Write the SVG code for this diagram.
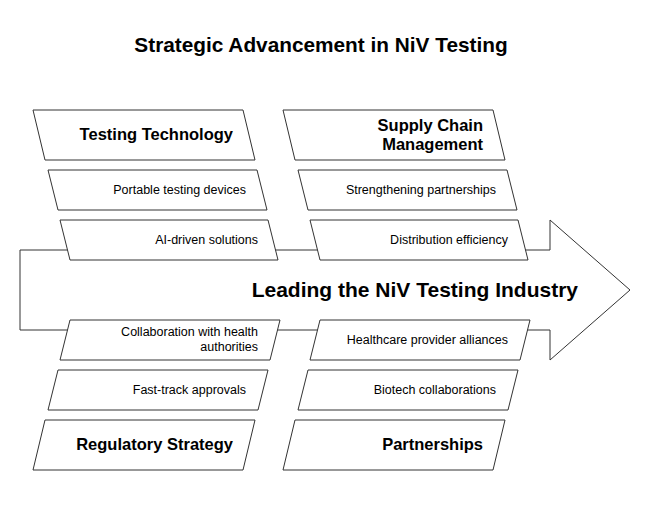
<svg xmlns="http://www.w3.org/2000/svg" width="650" height="510" viewBox="0 0 650 510">
<style>
.s{fill:#fff;stroke:#333;stroke-width:1}
text{font-family:"Liberation Sans",Arial,sans-serif;fill:#000;text-anchor:end;dominant-baseline:middle}
.h{font-size:16.5px;font-weight:bold}
.i{font-size:12.5px}
</style>
<rect width="650" height="510" fill="#fff"/>
<text x="321" y="46" style="font-size:20.8px;font-weight:bold;text-anchor:middle">Strategic Advancement in NiV Testing</text>
<g id="arrow"><polygon class="s" points="20,250 550,250 550,220 630,290 550,360 550,330 20,330"/>
<text x="578" y="291" style="font-size:21px;font-weight:bold">Leading the NiV Testing Industry</text></g>
<g id="testing-technology"><polygon class="s" points="33,110 243,110 255,160 45,160"/><text class="h" x="233" y="136">Testing Technology</text></g>
<g id="portable"><polygon class="s" points="48,170 257,170 267,210 58,210"/><text class="i" x="246" y="191">Portable testing devices</text></g>
<g id="ai"><polygon class="s" points="60,220 268,220 278,260 70,260"/><text class="i" x="258" y="241">AI-driven solutions</text></g>
<g id="collab"><polygon class="s" points="70,320 280,320 270,360 60,360"/><text class="i" x="258" y="333">Collaboration with health</text><text class="i" x="258" y="348">authorities</text></g>
<g id="fast"><polygon class="s" points="58,370 268,370 258,410 48,410"/><text class="i" x="246" y="391">Fast-track approvals</text></g>
<g id="regulatory"><polygon class="s" points="45,420 255,420 243,470 33,470"/><text class="h" x="233" y="446">Regulatory Strategy</text></g>
<g id="supply"><polygon class="s" points="283,110 493,110 505,160 295,160"/><text class="h" x="483" y="127">Supply Chain</text><text class="h" x="483" y="146">Management</text></g>
<g id="strength"><polygon class="s" points="298,170 507,170 517,210 308,210"/><text class="i" x="496" y="191">Strengthening partnerships</text></g>
<g id="distribution"><polygon class="s" points="310,220 518,220 528,260 320,260"/><text class="i" x="508" y="241">Distribution efficiency</text></g>
<g id="healthcare"><polygon class="s" points="320,320 530,320 520,360 310,360"/><text class="i" x="508" y="341">Healthcare provider alliances</text></g>
<g id="biotech"><polygon class="s" points="308,370 518,370 508,410 298,410"/><text class="i" x="496" y="391">Biotech collaborations</text></g>
<g id="partnerships"><polygon class="s" points="295,420 505,420 493,470 283,470"/><text class="h" x="483" y="446">Partnerships</text></g>
<g id="connectors"/>
</svg>
